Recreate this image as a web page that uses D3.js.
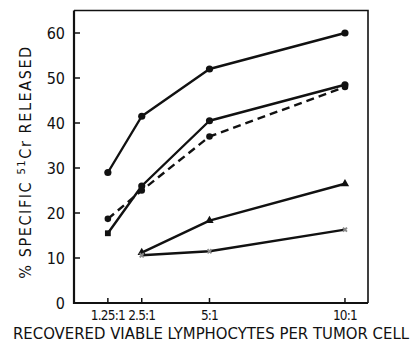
<!DOCTYPE html>
<meta charset="utf-8">
<style>
body { margin: 0; background: #fff; }
svg { font-family: "DejaVu Sans Condensed", "DejaVu Sans", sans-serif; fill: #111; }
.frame { fill: none; stroke: #111; stroke-width: 1.6px; }
.axis line { stroke: #111; stroke-width: 1.5px; }
.xtick { font-family: "Liberation Sans Narrow", "DejaVu Sans Condensed", sans-serif; font-size: 13.5px; letter-spacing: -0.8px; }
.series { fill: none; stroke: #111; stroke-width: 2.4px; stroke-linejoin: round; }
.dashed { stroke-dasharray: 8 5; }
</style>
<svg width="412" height="353"></svg>
<script src="https://d3js.org/d3.v7.min.js"></script>
<script>

// lymphocyte : tumor cell ratios
var ratios = [1.25, 2.5, 5, 10];
var ratioLabels = ["1.25:1", "2.5:1", "5:1", "10:1"];
var yTicks = [0, 10, 20, 30, 40, 50, 60];

// % specific 51Cr released
var seriesA = [29, 41.5, 52, 60];
var seriesB = [15.5, 26, 40.5, 48.5];
var seriesC = [18.7, 25, 37, 48];      // dashed
var seriesD = [null, 11.2, 18.3, 26.5]; // triangles
var seriesE = [null, 10.6, 11.5, 16.3];

var svg = d3.select("svg");

var x = d3.scaleLinear().domain([0, 10.85]).range([74, 368]);
var y = d3.scaleLinear().domain([0, 65]).range([303, 10.5]);

// frame: left + bottom axes drawn heavier, top + right lighter
svg.append("path")
    .attr("class", "frame")
    .attr("d", "M" + x(0) + "," + y(65) + "H" + x(10.85) + "V" + y(0));
svg.append("path")
    .attr("class", "frame")
    .style("stroke-width", "2.2px")
    .attr("d", "M" + x(0) + "," + y(65) + "V" + y(0) + "H" + x(10.85));

// y ticks (pointing inward)
var yAxis = svg.append("g").attr("class", "axis");
yAxis.selectAll("line")
    .data(yTicks.filter(function(d) { return d > 0; }))
    .enter().append("line")
    .attr("x1", x(0)).attr("x2", x(0) + 6)
    .attr("y1", function(d) { return y(d); })
    .attr("y2", function(d) { return y(d); });
yAxis.selectAll("text")
    .data(yTicks)
    .enter().append("text")
    .attr("x", x(0) - 9)
    .attr("y", function(d) { return y(d) + 6; })
    .attr("text-anchor", "end")
    .style("font-size", "16px")
    .text(function(d) { return d; });

// x ticks (pointing inward)
var xAxis = svg.append("g").attr("class", "axis");
xAxis.selectAll("line")
    .data(ratios)
    .enter().append("line")
    .attr("x1", function(d) { return x(d); })
    .attr("x2", function(d) { return x(d); })
    .attr("y1", y(0)).attr("y2", y(0) - 5);
xAxis.selectAll("text")
    .data(ratios)
    .enter().append("text")
    .attr("class", "xtick")
    .attr("x", function(d) { return x(d); })
    .attr("y", 320)
    .attr("text-anchor", "middle")
    .text(function(d, i) { return ratioLabels[i]; });

// axis titles
svg.append("text")
    .attr("x", 211).attr("y", 339)
    .attr("text-anchor", "middle")
    .attr("textLength", 396)
    .attr("lengthAdjust", "spacingAndGlyphs")
    .style("font-size", "15px")
    .text("RECOVERED VIABLE LYMPHOCYTES PER TUMOR CELL");

var ylab = svg.append("text")
    .attr("transform", "translate(31,162) rotate(-90)")
    .attr("text-anchor", "middle")
    .style("font-size", "16px")
    .style("letter-spacing", "1.6px");
ylab.append("tspan").text("% SPECIFIC  ");
ylab.append("tspan").attr("dy", -6).style("font-size", "11px").text("51");
ylab.append("tspan").attr("dy", 6).text("Cr RELEASED");

// lines
var line = d3.line()
    .defined(function(d) { return d != null; })
    .x(function(d, i) { return x(ratios[i]); })
    .y(function(d) { return y(d); });

function pts(s) {
  return s.map(function(v, i) { return { x: ratios[i], v: v }; })
          .filter(function(d) { return d.v != null; });
}

[seriesA, seriesB, seriesD, seriesE].forEach(function(s) {
  svg.append("path").attr("class", "series").attr("d", line(s));
});
svg.append("path").attr("class", "series dashed").attr("d", line(seriesC));

// markers
function circles(s, r) {
  svg.append("g").selectAll("circle")
      .data(pts(s))
      .enter().append("circle")
      .attr("cx", function(d) { return x(d.x); })
      .attr("cy", function(d) { return y(d.v); })
      .attr("r", r)
      .attr("fill", "#111");
}
circles(seriesA, 3.6);
circles(seriesC, 3.3);

// series B: square at first point, dots elsewhere
svg.append("g").selectAll("path")
    .data(pts(seriesB))
    .enter().append("path")
    .attr("transform", function(d) { return "translate(" + x(d.x) + "," + y(d.v) + ")"; })
    .attr("d", function(d, i) {
      return d3.symbol().type(i == 0 ? d3.symbolSquare : d3.symbolCircle).size(i == 0 ? 34 : 40)();
    })
    .attr("fill", "#111");

// series D: small triangles
svg.append("g").selectAll("path")
    .data(pts(seriesD))
    .enter().append("path")
    .attr("transform", function(d) { return "translate(" + x(d.x) + "," + y(d.v) + ")"; })
    .attr("d", d3.symbol().type(d3.symbolTriangle).size(30))
    .attr("fill", "#111");

// series E: faint small crosses
svg.append("g").selectAll("path")
    .data(pts(seriesE))
    .enter().append("path")
    .attr("transform", function(d) { return "translate(" + x(d.x) + "," + y(d.v) + ") rotate(45)"; })
    .attr("d", d3.symbol().type(d3.symbolCross).size(18))
    .attr("fill", "#888");

</script>
